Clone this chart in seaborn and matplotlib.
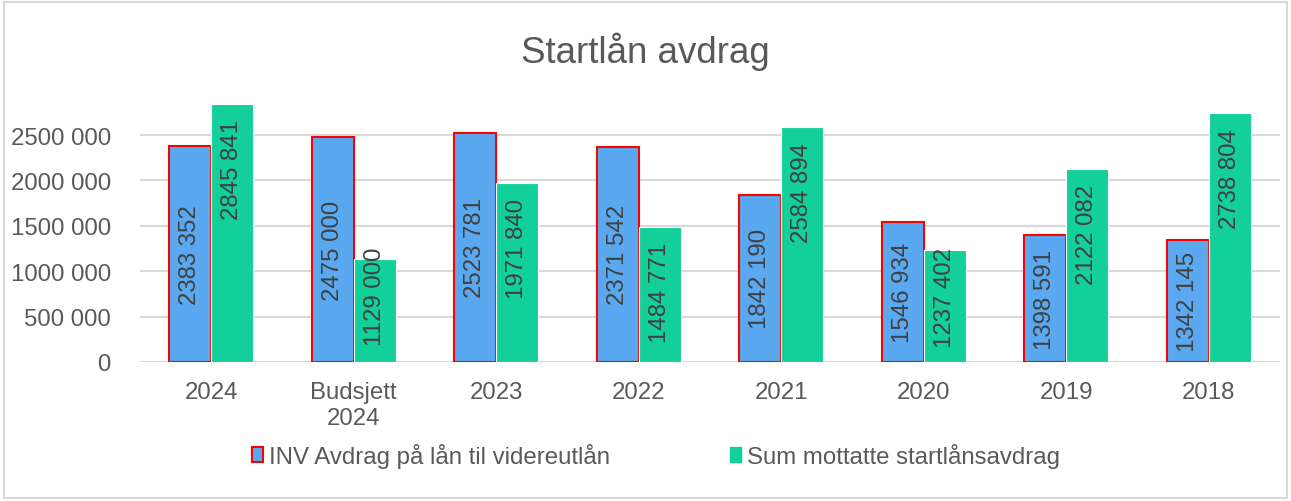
import matplotlib
matplotlib.use("Agg")
import matplotlib.pyplot as plt
import seaborn as sns
import pandas as pd
from matplotlib.patches import Rectangle, Patch
from matplotlib.ticker import FuncFormatter

categories = ["2024", "Budsjett\n2024", "2023", "2022", "2021", "2020", "2019", "2018"]
series_names = ["INV Avdrag på lån til videreutlån", "Sum mottatte startlånsavdrag"]
inv_avdrag = [2383352, 2475000, 2523781, 2371542, 1842190, 1546934, 1398591, 1342145]
sum_mottatte = [2845841, 1129000, 1971840, 1484771, 2584894, 1237402, 2122082, 2738804]
y_ticks = [0, 500000, 1000000, 1500000, 2000000, 2500000]

def fmt(v):
    v = int(round(v))
    if v >= 1000:
        return f"{v // 1000} {v % 1000:03d}"
    return f"{v}"

df = pd.DataFrame({
    "kategori": categories * 2,
    "serie": [series_names[0]] * len(categories) + [series_names[1]] * len(categories),
    "verdi": inv_avdrag + sum_mottatte,
})

sns.set_theme(style="white")
plt.rcParams["font.family"] = ["Liberation Sans", "DejaVu Sans"]

BLUE = "#5aa9f0"
GREEN = "#13cf99"
TXT = "#595959"
LBL = "#404040"

fig = plt.figure(figsize=(12.91, 5.02), dpi=100)
ax = fig.add_axes([0.1084, 0.2769, 0.8831, 0.5426])

sns.barplot(data=df, x="kategori", y="verdi", hue="serie", order=categories,
            hue_order=series_names, palette=[BLUE, GREEN], width=0.59,
            saturation=1, ax=ax, legend=False, zorder=3)

ax.set_ylim(0, 3000000)
ax.set_yticks(y_ticks)
ax.yaxis.set_major_formatter(FuncFormatter(lambda v, p: fmt(v)))
ax.grid(axis="y", color="#d9d9d9", linewidth=1.5, zorder=0)
ax.set_axisbelow(True)
for s in ax.spines.values():
    s.set_visible(False)
ax.set_xlabel("")
ax.set_ylabel("")
ax.tick_params(axis="both", length=0, labelsize=17.3, colors=TXT)
ax.tick_params(axis="x", pad=14)
ax.tick_params(axis="y", pad=21)
for t in ax.get_xticklabels():
    t.set_linespacing(1.2)

# bar styling and labels
px = 3000000 / (0.5426 * 502)  # data units per pixel
pad = 15 * px
textlen = 100 * px
blue_bars = ax.containers[0]
green_bars = ax.containers[1]
for b in blue_bars:
    b.set_edgecolor("#ff0000")
    b.set_linewidth(1.5)
for b in green_bars:
    b.set_edgecolor("white")
    b.set_linewidth(0.8)

for b, v in zip(blue_bars, inv_avdrag):
    ax.text(b.get_x() + b.get_width() / 2, v / 2, fmt(v), rotation=90,
            ha="center", va="center", fontsize=17.3, color=LBL, zorder=5)
for b, v in zip(green_bars, sum_mottatte):
    top = max(v - pad, pad + textlen)
    ax.text(b.get_x() + b.get_width() / 2, top, fmt(v), rotation=90,
            ha="center", va="top", fontsize=17.3, color=LBL, zorder=5)

fig.suptitle("Startlån avdrag", x=0.5, y=0.935, fontsize=26.5, color=TXT)

handles = [Patch(facecolor=BLUE, edgecolor="#ff0000", linewidth=1.5),
           Patch(facecolor=GREEN, edgecolor=GREEN)]
leg = fig.legend(handles, series_names, loc="center", bbox_to_anchor=(0.508, 0.09),
                 ncol=2, frameon=False, fontsize=17.3, handlelength=0.45,
                 handleheight=0.6, handletextpad=0.25, columnspacing=5.0)
for t in leg.get_texts():
    t.set_color(TXT)

fig.patches.append(Rectangle((0.003, 0.005), 0.994, 0.99, transform=fig.transFigure,
                             fill=False, edgecolor="#d9d9d9", linewidth=1.5))

fig.savefig("out.png", dpi=100)
